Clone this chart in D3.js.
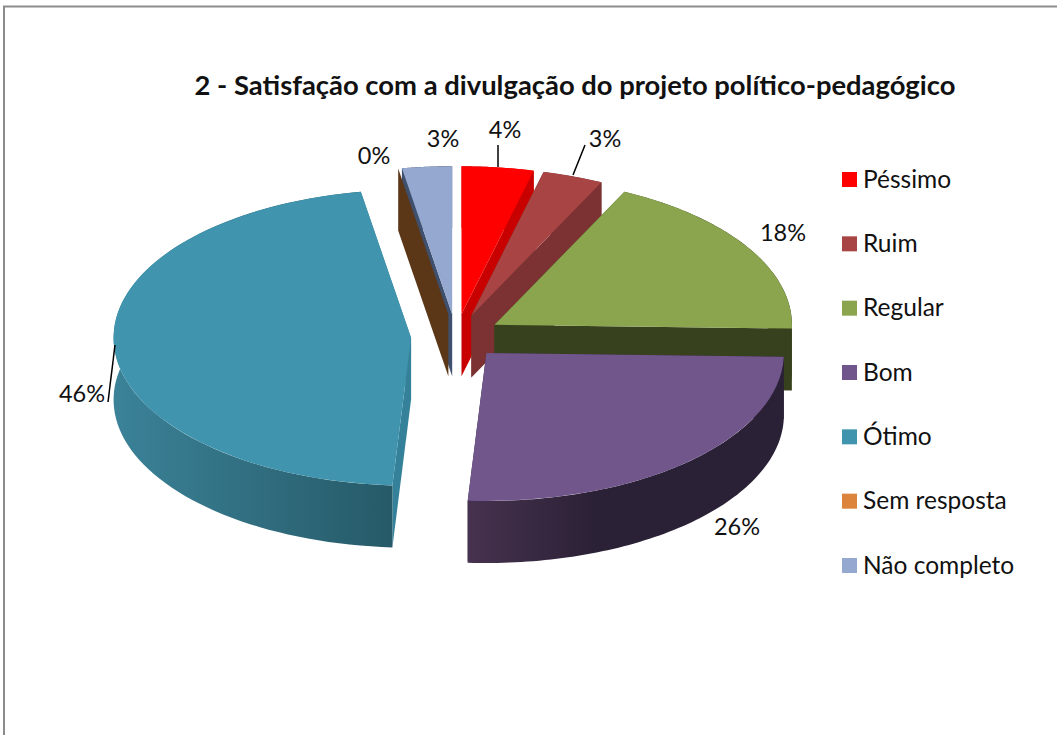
<!DOCTYPE html>
<html><head><meta charset="utf-8">
<script src="https://cdn.jsdelivr.net/npm/d3@7"></script>
<style>html,body{margin:0;padding:0;background:#fff}svg{display:block}text{font-family:Lato,"Noto Sans",sans-serif;fill:#111}</style>
</head><body><svg id="c" width="1057" height="735"></svg>
<script>
const categories = ["Péssimo","Ruim","Regular","Bom","Ótimo","Sem resposta","Não completo"];
const values = [3.9,3.3,18.2,25.6,46.3,0,2.7];
const topColors = ["#ff0000","#a84544","#8aa54e","#71568c","#4094ae","#dc833c","#95a9d0"];
const cutColors = ["#c80000","#7c3232","#38411e","#2d2238","#35819a","#5b3717","#3f4f6e"];
const rimLight = ["#c80000","#7c3232","#38411e","#47324f","#3b8298","#5b3717","#3f4f6e"];
const rimDark  = ["#c80000","#7c3232","#38411e","#2b2136","#265a68","#5b3717","#3f4f6e"];
const drawOrder = [6,5,0,1,2,4,3];
const titleText = "2 - Satisfação com a divulgação do projeto político-pedagógico";
const labelAnchors = [[505,138],[605,147],[783,241],[737,535],[82,402],[374,164],[443,147]];
const leaderLines = [[[498,145],[498,167]],[[585,145],[573,175]],null,null,[[115,345],[108,402]],null,null];

const W=1057,H=735,cx=456,cy=336.5,rx=297.5,ry=148,depth=62,explode=45;
const svg=d3.select("#c");
svg.append("rect").attr("x",4).attr("y",6.5).attr("width",1060).attr("height",740).attr("fill","#fff").attr("stroke","#8c8c8c").attr("stroke-width",2);
const defs=svg.append("defs");
svg.append("text").attr("x",575).attr("y",95).attr("text-anchor","middle").attr("font-size",27.4).attr("font-weight",700).text(titleText);

const pie=d3.pie().sort(null).value(d=>d);
const arcs=pie(values);
const arcGen=d3.arc().innerRadius(0).outerRadius(rx);
const line=d3.line();
const ky=ry/rx;
const pt=(o,a,r,dz=0)=>[o[0]+r*Math.sin(a),o[1]-r*ky*Math.cos(a)+dz];
const g=svg.append("g");
drawOrder.forEach(i=>{
  const d=arcs[i],mid=(d.startAngle+d.endAngle)/2;
  const o=pt([cx,cy],mid,explode);
  const sl=g.append("g");
  const face=(a,col)=>sl.append("path").attr("fill",col).attr("d",line([o,pt(o,a,rx),pt(o,a,rx,depth),[o[0],o[1]+depth]])+"Z");
  if(d.endAngle>d.startAngle){
    const steps=d3.range(0,1.0001,1/80).map(t=>d.startAngle+(d.endAngle-d.startAngle)*t);
    const up=steps.map(a=>pt(o,a,rx)), dn=steps.map(a=>pt(o,a,rx,depth)).reverse();
    const xs=up.map(p=>p[0]);
    const gid="rim"+i;
    const lg=defs.append("linearGradient").attr("id",gid).attr("gradientUnits","userSpaceOnUse")
      .attr("x1",d3.min(xs)).attr("x2",d3.max(xs)).attr("y1",0).attr("y2",0);
    lg.append("stop").attr("offset",0).attr("stop-color",rimLight[i]);
    lg.append("stop").attr("offset",i===3?0.4:1).attr("stop-color",rimDark[i]);
    face(d.endAngle,cutColors[i]);
    face(d.startAngle,cutColors[i]);
    sl.append("path").attr("fill",`url(#${gid})`).attr("d",line(up.concat(dn))+"Z");
    sl.append("path").attr("fill",topColors[i]).attr("d",arcGen(d))
      .attr("transform",`translate(${o[0]},${o[1]}) scale(1,${ky})`);
  } else {
    face(d.startAngle,cutColors[i]);
  }
});

values.forEach((v,i)=>{
  if(leaderLines[i]) svg.append("path").attr("d",line(leaderLines[i])).attr("stroke","#000").attr("stroke-width",1.5).attr("fill","none");
  svg.append("text").attr("x",labelAnchors[i][0]).attr("y",labelAnchors[i][1]).attr("text-anchor","middle").attr("font-size",23.5).text(Math.round(v)+"%");
});

const ly=d3.scalePoint().domain(categories).range([179.5,565.5]);
const leg=svg.append("g").selectAll("g").data(categories).join("g").attr("transform",d=>`translate(842,${ly(d)})`);
leg.append("rect").attr("x",0).attr("y",-7.5).attr("width",15).attr("height",15).attr("fill",(d,i)=>topColors[i]);
leg.append("text").attr("x",21).attr("y",8).attr("font-size",24.5).text(d=>d);
</script></body></html>
